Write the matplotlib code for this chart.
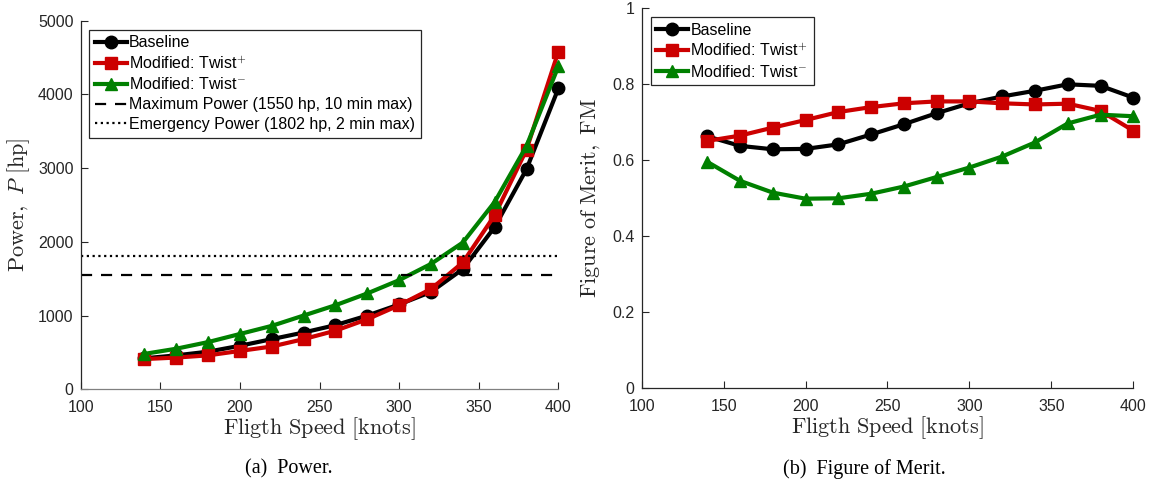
import numpy as np
import matplotlib
matplotlib.use('Agg')
import matplotlib.pyplot as plt

plt.rcParams['mathtext.fontset'] = 'cm'
plt.rcParams['font.family'] = 'Liberation Sans'

# flight speed [knots]
speed = [140, 160, 180, 200, 220, 240, 260, 280, 300, 320, 340, 360, 380, 400]

# power [hp]
power_base = [420, 460, 510, 590, 680, 770, 870, 1000, 1150, 1320, 1630, 2200, 2985, 4080]
power_plus = [410, 430, 460, 520, 580, 680, 795, 950, 1140, 1360, 1720, 2360, 3250, 4580]
power_minus = [480, 550, 640, 750, 860, 1000, 1140, 1300, 1480, 1700, 1990, 2540, 3300, 4380]

# figure of merit
fm_base = [0.663, 0.638, 0.629, 0.630, 0.642, 0.668, 0.695, 0.724, 0.750, 0.768, 0.783, 0.800, 0.796, 0.765]
fm_plus = [0.651, 0.665, 0.686, 0.706, 0.727, 0.740, 0.750, 0.755, 0.755, 0.750, 0.747, 0.749, 0.730, 0.678]
fm_minus = [0.596, 0.546, 0.515, 0.499, 0.500, 0.512, 0.531, 0.556, 0.581, 0.610, 0.647, 0.697, 0.720, 0.716]

max_power = 1550
emergency_power = 1802

labels = ['Baseline', r'Modified: Twist$^{\mathsf{+}}$', r'Modified: Twist$^{\mathsf{-}}$']
colors = ['black', '#cc0000', '#008000']
markers = ['o', 's', '^']

fig = plt.figure(figsize=(11.51, 4.8), dpi=100)
ax1 = fig.add_axes([0.0701, 0.189, 0.415, 0.768])
ax2 = fig.add_axes([0.5575, 0.191, 0.4271, 0.7917])


def style_axes(ax, bottom_col):
    for s in ['top', 'right']:
        ax.spines[s].set_visible(False)
    ax.spines['left'].set_color('#262626')
    ax.spines['bottom'].set_color(bottom_col)
    for s in ['left', 'bottom']:
        ax.spines[s].set_linewidth(0.9)
    ax.tick_params(direction='in', length=5, width=0.8, colors='#262626', labelsize=11.5)
    ax.tick_params(axis='x', pad=8)
    ax.tick_params(axis='y', pad=5)
    ax.set_xlim(100, 400)
    ax.set_xticks([100, 150, 200, 250, 300, 350, 400])
    ax.set_xlabel(r'$\mathrm{Fligth\ Speed\ [knots]}$', fontsize=16, color='#262626', labelpad=0)


def make_legend(ax, anchor):
    leg = ax.legend(loc='upper left', bbox_to_anchor=anchor, fontsize=11.5, frameon=True,
                    fancybox=False, edgecolor='#262626', handlelength=2.0, handletextpad=0.15,
                    borderpad=0.35, labelspacing=0.3, borderaxespad=0, framealpha=1)
    leg.get_frame().set_linewidth(0.9)
    return leg


for ys, c, m, lab in zip([power_base, power_plus, power_minus], colors, markers, labels):
    ax1.plot(speed, ys, color=c, marker=m, lw=3, ms=9, label=lab, clip_on=False)
ax1.axhline(max_power, color='black', ls=(0, (5, 4)), lw=1.6,
            label='Maximum Power (1550 hp, 10 min max)')
ax1.axhline(emergency_power, color='black', ls=(0, (1, 1.6)), lw=1.6,
            label='Emergency Power (1802 hp, 2 min max)')
style_axes(ax1, '#808080')
ax1.set_ylim(0, 5000)
ax1.set_yticks([0, 1000, 2000, 3000, 4000, 5000])
ax1.set_ylabel(r'$\mathrm{Power,}\ P\ \mathrm{[hp]}$', fontsize=16, color='#262626')
ax1.yaxis.set_label_coords(-0.102, 0.5)
make_legend(ax1, (0.018, 0.975))

for ys, c, m, lab in zip([fm_base, fm_plus, fm_minus], colors, markers, labels):
    ax2.plot(speed, ys, color=c, marker=m, lw=3, ms=9, label=lab, clip_on=False)
style_axes(ax2, '#262626')
ax2.set_ylim(0, 1)
ax2.set_yticks([0, 0.2, 0.4, 0.6, 0.8, 1])
ax2.set_yticklabels(['0', '0.2', '0.4', '0.6', '0.8', '1'])
ax2.set_ylabel(r'$\mathrm{Figure\ of\ Merit,\ FM}$', fontsize=16, color='#262626')
ax2.yaxis.set_label_coords(-0.081, 0.5)
make_legend(ax2, (0.018, 0.977))

fig.text(289 / 1151, 0.013, '(a)  Power.', ha='center', fontsize=14.5, family='Liberation Serif')
fig.text(864 / 1151, 0.013, '(b)  Figure of Merit.', ha='center', fontsize=14.5, family='Liberation Serif')

fig.savefig('out.png', dpi=100)
